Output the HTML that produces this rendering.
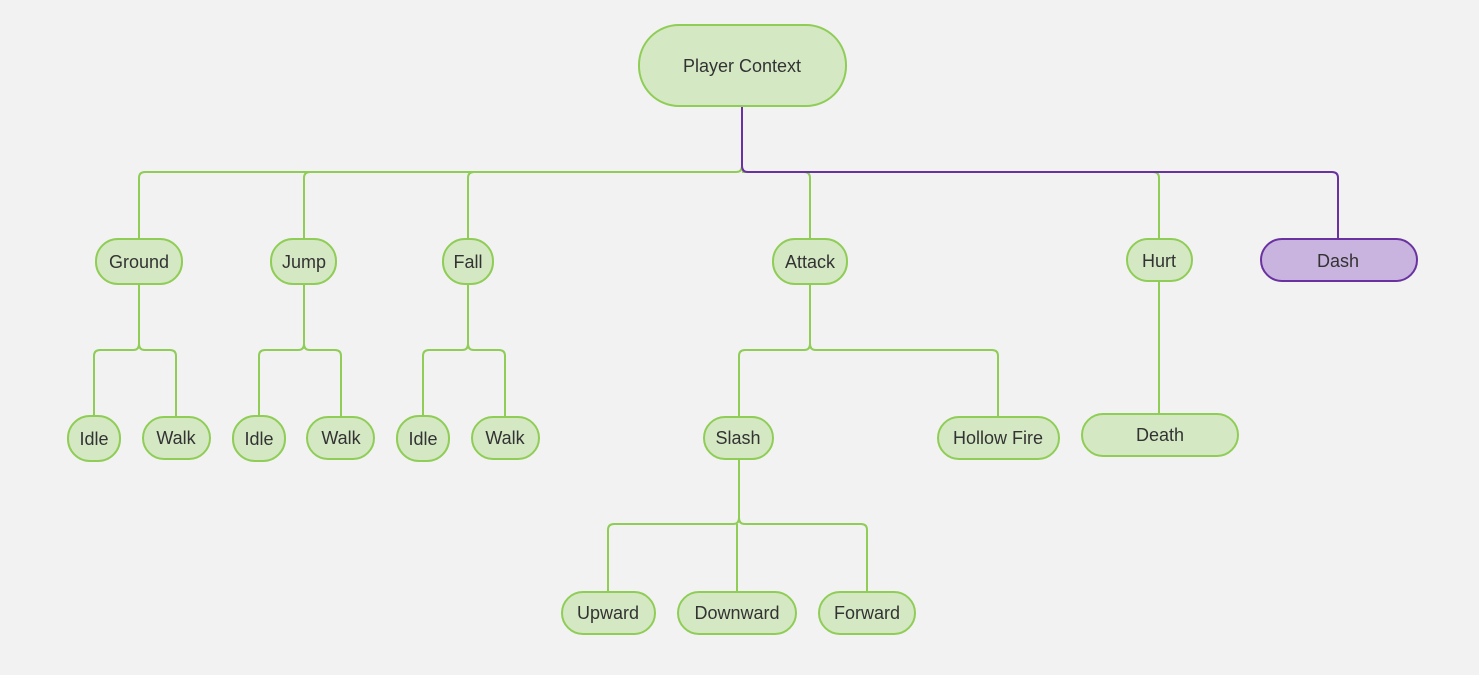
<!DOCTYPE html>
<html><head><meta charset="utf-8"><style>
html,body{margin:0;padding:0;background:#f2f2f2;}
svg{display:block;}
text{font-family:"Liberation Sans",sans-serif;font-size:18px;fill:#333;text-anchor:middle;dominant-baseline:central;}
.n{fill:#d5e8c4;stroke:#8fcd56;stroke-width:2;}
.p{fill:#c9b4df;stroke:#6a32a0;stroke-width:2;}
.g{fill:none;stroke:#8fcd56;stroke-width:2;stroke-linejoin:round;}
.v{fill:none;stroke:#6a32a0;stroke-width:2;stroke-linejoin:round;}
</style></head><body>
<svg width="1479" height="675" viewBox="0 0 1479 675">
<g class="g">
<path d="M742 106 V166 Q742 172 736 172 H145 Q139 172 139 178 V239"/>
<path d="M310 172 Q304 172 304 178 V239"/>
<path d="M474 172 Q468 172 468 178 V239"/>
<path d="M742 172 H804 Q810 172 810 178 V239"/>
<path d="M810 172 H1153 Q1159 172 1159 178 V239"/>
<path d="M139 284 V344 Q139 350 133 350 H100 Q94 350 94 356 V416"/>
<path d="M139 344 Q139 350 145 350 H170 Q176 350 176 356 V417"/>
<path d="M304 284 V344 Q304 350 298 350 H265 Q259 350 259 356 V416"/>
<path d="M304 344 Q304 350 310 350 H335 Q341 350 341 356 V417"/>
<path d="M468 284 V344 Q468 350 462 350 H429 Q423 350 423 356 V416"/>
<path d="M468 344 Q468 350 474 350 H499 Q505 350 505 356 V417"/>
<path d="M810 284 V344 Q810 350 804 350 H745 Q739 350 739 356 V417"/>
<path d="M810 344 Q810 350 816 350 H992 Q998 350 998 356 V417"/>
<path d="M739 459 V518 Q739 524 733 524 H614 Q608 524 608 530 V592"/>
<path d="M739 518 Q739 524 745 524 H861 Q867 524 867 530 V592"/>
<path d="M737 524 V592"/>
<path d="M1159 281 V414"/>
</g>
<path class="v" d="M742 106 V166 Q742 172 748 172 H1332 Q1338 172 1338 178 V239"/>
<rect class="n" x="639" y="25" width="207" height="81" rx="40"/><text x="742" y="66">Player Context</text>
<rect class="n" x="96" y="239" width="86" height="45" rx="22"/><text x="139" y="262">Ground</text>
<rect class="n" x="271" y="239" width="65" height="45" rx="22"/><text x="304" y="262">Jump</text>
<rect class="n" x="443" y="239" width="50" height="45" rx="22"/><text x="468" y="262">Fall</text>
<rect class="n" x="773" y="239" width="74" height="45" rx="22"/><text x="810" y="262">Attack</text>
<rect class="n" x="1127" y="239" width="65" height="42" rx="21"/><text x="1159" y="261">Hurt</text>
<rect class="p" x="1261" y="239" width="156" height="42" rx="21"/><text x="1338" y="261">Dash</text>
<rect class="n" x="68" y="416" width="52" height="45" rx="22"/><text x="94" y="439">Idle</text>
<rect class="n" x="143" y="417" width="67" height="42" rx="21"/><text x="176" y="438">Walk</text>
<rect class="n" x="233" y="416" width="52" height="45" rx="22"/><text x="259" y="439">Idle</text>
<rect class="n" x="307" y="417" width="67" height="42" rx="21"/><text x="341" y="438">Walk</text>
<rect class="n" x="397" y="416" width="52" height="45" rx="22"/><text x="423" y="439">Idle</text>
<rect class="n" x="472" y="417" width="67" height="42" rx="21"/><text x="505" y="438">Walk</text>
<rect class="n" x="704" y="417" width="69" height="42" rx="21"/><text x="738" y="438">Slash</text>
<rect class="n" x="938" y="417" width="121" height="42" rx="21"/><text x="998" y="438">Hollow Fire</text>
<rect class="n" x="1082" y="414" width="156" height="42" rx="21"/><text x="1160" y="435">Death</text>
<rect class="n" x="562" y="592" width="93" height="42" rx="21"/><text x="608" y="613">Upward</text>
<rect class="n" x="678" y="592" width="118" height="42" rx="21"/><text x="737" y="613">Downward</text>
<rect class="n" x="819" y="592" width="96" height="42" rx="21"/><text x="867" y="613">Forward</text>
</svg>
</body></html>
